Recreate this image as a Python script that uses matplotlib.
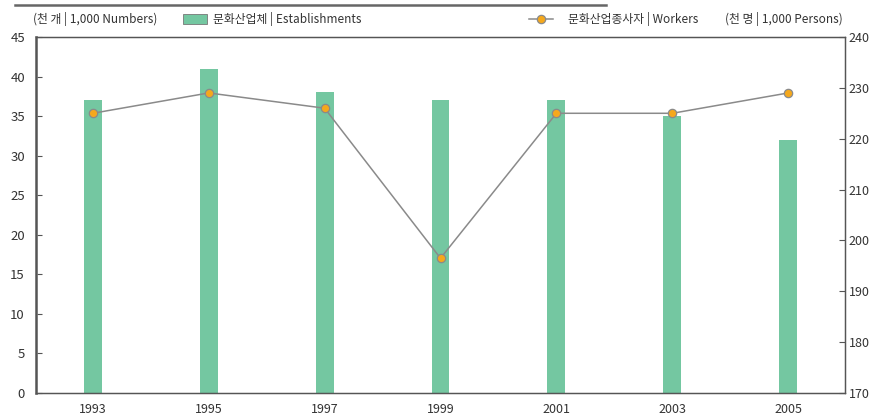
import matplotlib.pyplot as plt
from matplotlib.lines import Line2D
from matplotlib.patches import Rectangle

plt.rcParams['font.family'] = ['Noto Sans CJK KR', 'DejaVu Sans']

years = ["1993", "1995", "1997", "1999", "2001", "2003", "2005"]
establishments = [37, 41, 38, 37, 37, 35, 32]
workers = [225, 229, 226, 196.5, 225, 225, 229]

bar_color = "#74C7A1"
line_color = "#8a8a8a"
marker_color = "#F5A81C"
spine_color = "#555555"
text_color = "#333333"

fig = plt.figure(figsize=(8.71, 4.15), dpi=100)
ax = fig.add_axes([36 / 871, 22 / 415, 809 / 871, 356 / 415])
ax2 = ax.twinx()

x = list(range(len(years)))
ax.bar(x, establishments, width=0.155, color=bar_color, zorder=2)
ax2.plot(x, workers, color=line_color, lw=1.1, marker="o", ms=6,
         markerfacecolor=marker_color, markeredgecolor=line_color, markeredgewidth=0.9, zorder=3)

ax.set_xlim(-0.49, len(years) - 0.51)
ax.set_ylim(0, 45)
ax.set_yticks(range(0, 46, 5))
ax2.set_ylim(170, 240)
ax2.set_yticks(range(170, 241, 10))
ax.set_xticks(x)
ax.set_xticklabels(years)

ax.tick_params(axis="x", length=0, pad=7, labelsize=9, colors=text_color)
ax.tick_params(axis="y", direction="in", length=4, width=0.8, pad=8,
               labelsize=9.5, colors=text_color, color=spine_color)
ax2.tick_params(axis="y", direction="in", length=4, width=0.8, pad=2.5,
                labelsize=9, colors=text_color, color=spine_color)

for a in (ax, ax2):
    for name, sp in a.spines.items():
        sp.set_color(spine_color)
        sp.set_linewidth(0.9)
ax.spines["left"].set_linewidth(2)
ax.spines["left"].set_color("#777777")

# top rule
fig.add_artist(Line2D([15 / 871, 606 / 871], [410 / 415, 410 / 415], color="#666666", lw=1.8))

# legend / unit row
ty = 396 / 415
fig.text(33 / 871, ty, "(천 개 | 1,000 Numbers)", fontsize=8.5, color=text_color, va="center")
fig.add_artist(Rectangle((183 / 871, 391 / 415), 24 / 871, 10 / 415, facecolor=bar_color,
                         edgecolor="#777777", lw=0.6))
fig.text(213 / 871, ty, "문화산업체 | Establishments", fontsize=8.5, color=text_color, va="center")
fig.add_artist(Line2D([529 / 871, 553 / 871], [ty, ty], color=line_color, lw=1.1))
fig.add_artist(Line2D([541 / 871], [ty], marker="o", ms=6, markerfacecolor=marker_color,
                      markeredgecolor=line_color, markeredgewidth=0.9, lw=0))
fig.text(568 / 871, ty, "문화산업종사자 | Workers", fontsize=8.5, color=text_color, va="center")
fig.text(843 / 871, ty, "(천 명 | 1,000 Persons)", fontsize=8.5, color=text_color, va="center", ha="right")

fig.savefig("out.png", dpi=100)
